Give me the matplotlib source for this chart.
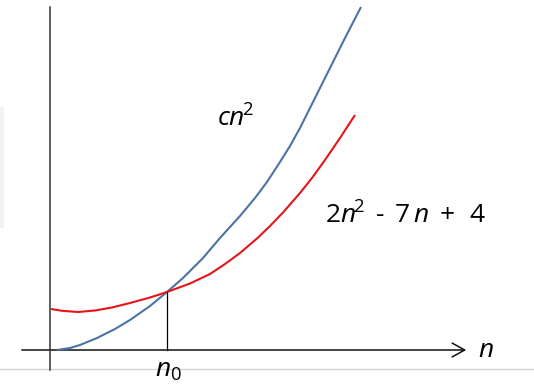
import matplotlib
matplotlib.use("Agg")
import matplotlib.pyplot as plt
from matplotlib.patches import Rectangle, FancyArrowPatch

plt.rcParams['mathtext.fontset'] = 'custom'
plt.rcParams['mathtext.rm'] = 'Open Sans'
plt.rcParams['mathtext.it'] = 'Open Sans:italic'
plt.rcParams['font.family'] = ['Open Sans', 'DejaVu Sans']

# Blue curve: c*n^2
blue_n = [7, 20, 30, 47, 65, 80, 100, 117, 133, 153, 170, 190, 205, 217, 230, 240, 250, 265, 280, 295, 311]
blue_v = [0, 2, 5, 12, 21, 30, 44, 58, 72, 92, 112, 134, 152, 168, 188, 204, 222, 252, 282, 312, 343]

# Red curve: 2n^2 - 7n + 4
red_n = [1, 12, 28, 45, 62, 80, 100, 117, 140, 160, 175, 190, 207, 220, 233, 250, 262, 275, 290, 305]
red_v = [41, 39.2, 38, 39.5, 42.5, 47, 52.5, 58, 66.5, 76, 86, 97, 111.5, 124, 137.5, 157, 172, 190, 212, 235]

n0 = 117
n0_value = 58

fig = plt.figure(figsize=(5.34, 3.88), dpi=100)
ax = fig.add_axes([0, 0, 1, 1])
ax.set_xlim(-50, 484)
ax.set_ylim(-38, 350)
ax.axis('off')

# background decorations
ax.add_patch(Rectangle((-50, 122), 4, 121, facecolor='#f2f2f2', edgecolor='none'))
ax.plot([-50, 484], [-19, -19], color='#d4d4d4', lw=1.0)

# axes
ax.plot([0, 0], [-20, 343], color='#333333', lw=1.1)
ax.add_patch(FancyArrowPatch((-31, 0), (419, 0), arrowstyle='->,head_length=9,head_width=5',
                             color='#111111', lw=1.1, mutation_scale=1))

# curves
ax.plot(blue_n, blue_v, color='#4A74A4', lw=1.5, solid_capstyle='butt')
ax.plot(red_n, red_v, color='#E8141A', lw=1.5, solid_capstyle='butt')

# n0 marker line
ax.plot([n0, n0], [0, n0_value], color='black', lw=0.9)

# labels
ax.text(167, 223, r'$cn^{\!2}$', fontsize=19, ha='left', va='baseline')
ax.text(275, 126, r'2$n^{\!2}\,$ - $\,$7$\,n\,$ + $\,\,$4', fontsize=19, ha='left', va='baseline')
ax.text(428, -7, r'$n$', fontsize=19, ha='left', va='baseline')
ax.text(105, -27, r'$n_{0}$', fontsize=19, ha='left', va='baseline')

fig.savefig('out.png', dpi=100)
